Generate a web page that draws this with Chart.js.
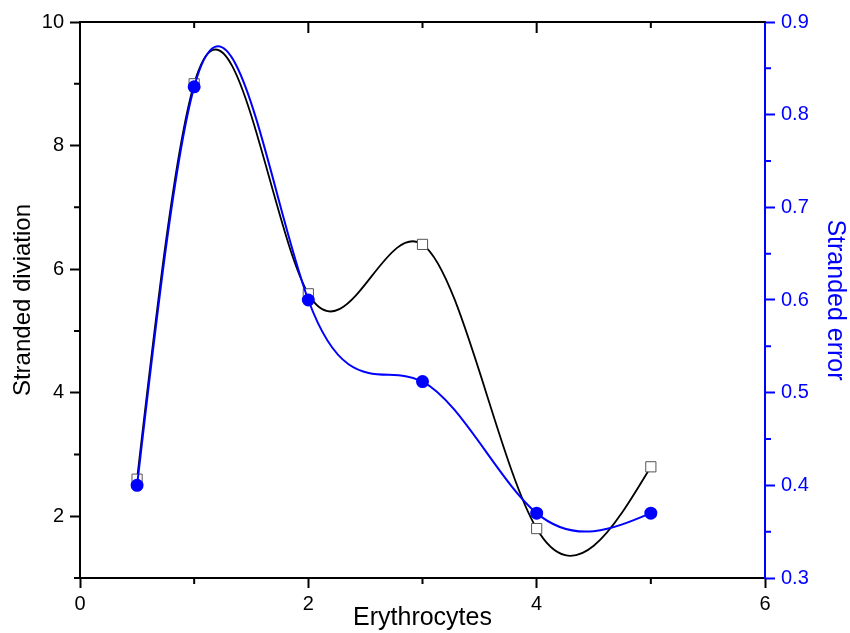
<!DOCTYPE html>
<html>
<head>
<meta charset="utf-8">
<script src="https://cdn.jsdelivr.net/npm/chart.js@4"></script>
<style>
  html, body { margin: 0; padding: 0; background: #fff; }
  #wrap { width: 850px; height: 633px; }
</style>
</head>
<body>
<div id="wrap"><canvas id="c" width="850" height="633"></canvas></div>
<script>
// 데이터
const erythrocytes = [0.5, 1, 2, 3, 4, 5];
const strandedDeviation = [2.6, 9.0, 5.6, 6.4, 1.8, 2.8];
const strandedError = [0.40, 0.83, 0.60, 0.512, 0.37, 0.37];

const xMinorTicks = [1, 3, 5];
const xMajorTicks = [0, 2, 4, 6];
const yMinorTicks = [1, 3, 5, 7, 9];
const y2MinorTicks = [0.35, 0.45, 0.55, 0.65, 0.75, 0.85];

const BLUE = '#0000ff';
const FONT = '"Liberation Sans", Arial, sans-serif';

// 자연 3차 스플라인 기울기 (픽셀 좌표 기준)
function splineSlopes(xs, ys) {
  const n = xs.length;
  const h = [], s = [];
  for (let i = 0; i < n - 1; i++) {
    h.push(xs[i + 1] - xs[i]);
    s.push((ys[i + 1] - ys[i]) / h[i]);
  }
  const M = new Array(n).fill(0);
  if (n > 2) {
    const a = [], b = [], c = [], d = [];
    for (let i = 1; i < n - 1; i++) {
      a.push(h[i - 1]); b.push(2 * (h[i - 1] + h[i])); c.push(h[i]);
      d.push(6 * (s[i] - s[i - 1]));
    }
    const m = b.length;
    for (let i = 1; i < m; i++) {
      const w = a[i] / b[i - 1];
      b[i] -= w * c[i - 1];
      d[i] -= w * d[i - 1];
    }
    const sol = new Array(m);
    sol[m - 1] = d[m - 1] / b[m - 1];
    for (let i = m - 2; i >= 0; i--) sol[i] = (d[i] - c[i] * sol[i + 1]) / b[i];
    for (let i = 0; i < m; i++) M[i + 1] = sol[i];
  }
  const slopes = [];
  for (let i = 0; i < n - 1; i++) slopes.push(s[i] - h[i] * (2 * M[i] + M[i + 1]) / 6);
  slopes.push(s[n - 2] + h[n - 2] * (M[n - 2] + 2 * M[n - 1]) / 6);
  return slopes;
}

// Origin 스타일 스플라인 곡선: 베지어 제어점 교체
const splinePlugin = {
  id: 'splineCurve',
  beforeDatasetDraw(chart, args) {
    const line = args.meta.dataset;
    const pts = args.meta.data;
    if (!line || pts.length < 3) return;
    line.updateControlPoints(chart.chartArea, 'x');
    const xs = pts.map(p => p.x), ys = pts.map(p => p.y);
    const m = splineSlopes(xs, ys);
    for (let i = 0; i < pts.length; i++) {
      if (i > 0) {
        const hp = (xs[i] - xs[i - 1]) / 3;
        pts[i].cp1x = xs[i] - hp;
        pts[i].cp1y = ys[i] - m[i] * hp;
      }
      if (i < pts.length - 1) {
        const hn = (xs[i + 1] - xs[i]) / 3;
        pts[i].cp2x = xs[i] + hn;
        pts[i].cp2y = ys[i] + m[i] * hn;
      }
    }
  }
};

// 작은 눈금 + 위쪽 테두리 그리기
const minorTicksPlugin = {
  id: 'minorTicks',
  afterDraw(chart) {
    const ctx = chart.ctx;
    const a = chart.chartArea;
    const x = chart.scales.x, y = chart.scales.y, y2 = chart.scales.y2;
    ctx.save();
    ctx.lineWidth = 2;
    ctx.strokeStyle = '#000';
    ctx.beginPath();
    ctx.moveTo(a.left - 1, a.top);
    ctx.lineTo(a.right, a.top);
    xMinorTicks.forEach(v => {
      const px = x.getPixelForValue(v);
      ctx.moveTo(px, a.bottom); ctx.lineTo(px, a.bottom + 6);
      ctx.moveTo(px, a.top); ctx.lineTo(px, a.top + 6);
    });
    xMajorTicks.forEach(v => {
      const px = x.getPixelForValue(v);
      if (v === 0 || v === 6) return;
      ctx.moveTo(px, a.top); ctx.lineTo(px, a.top + 11);
    });
    yMinorTicks.forEach(v => {
      const py = y.getPixelForValue(v);
      ctx.moveTo(a.left, py); ctx.lineTo(a.left - 6, py);
    });
    ctx.stroke();

    ctx.strokeStyle = BLUE;
    ctx.beginPath();
    y2MinorTicks.forEach(v => {
      const py = y2.getPixelForValue(v);
      ctx.moveTo(a.right, py); ctx.lineTo(a.right + 6, py);
    });
    ctx.stroke();
    ctx.restore();
  }
};

new Chart(document.getElementById('c'), {
  type: 'line',
  data: {
    datasets: [
      {
        label: 'Stranded error',
        data: erythrocytes.map((v, i) => ({ x: v, y: strandedError[i] })),
        yAxisID: 'y2',
        borderColor: BLUE, backgroundColor: BLUE,
        borderWidth: 2, pointStyle: 'circle', pointRadius: 5.5,
        tension: 0.4, order: 0
      },
      {
        label: 'Stranded diviation',
        data: erythrocytes.map((v, i) => ({ x: v, y: strandedDeviation[i] })),
        yAxisID: 'y',
        borderColor: '#000', backgroundColor: '#fff',
        pointBorderColor: '#555', pointBorderWidth: 1,
        borderWidth: 1.8, pointStyle: 'rect', pointRadius: 7.2,
        tension: 0.4, order: 1
      }
    ]
  },
  options: {
    responsive: false,
    animation: false,
    layout: { padding: { top: 22, left: 0, right: 0, bottom: 0 } },
    plugins: { legend: { display: false }, tooltip: { enabled: false } },
    scales: {
      x: {
        type: 'linear', min: 0, max: 6,
        ticks: { stepSize: 2, color: '#000', font: { family: FONT, size: 20 }, padding: 4 },
        grid: { drawOnChartArea: false, drawTicks: true, tickLength: 10, tickWidth: 2, tickColor: '#000' },
        border: { display: true, color: '#000', width: 2 },
        title: { display: true, text: 'Erythrocytes', color: '#000', font: { family: FONT, size: 25 }, padding: { top: 0, bottom: 0 } },
        afterFit(s) { s.height = 55; }
      },
      y: {
        type: 'linear', position: 'left', min: 1, max: 10,
        ticks: { stepSize: 2, includeBounds: false, color: '#000', font: { family: FONT, size: 20 }, padding: 6 },
        grid: { drawOnChartArea: false, drawTicks: true, tickLength: 10, tickWidth: 2, tickColor: '#000' },
        border: { display: true, color: '#000', width: 2 },
        title: { display: true, text: 'Stranded diviation', color: '#000', font: { family: FONT, size: 24 }, padding: { top: 9, bottom: 0 } },
        afterFit(s) { s.width = 80; }
      },
      y2: {
        type: 'linear', position: 'right', min: 0.3, max: 0.9,
        ticks: { stepSize: 0.1, color: BLUE, font: { family: FONT, size: 20 }, padding: 6,
          callback: v => v.toFixed(1) },
        grid: { drawOnChartArea: false, drawTicks: true, tickLength: 10, tickWidth: 2, tickColor: BLUE },
        border: { display: true, color: BLUE, width: 2 },
        title: { display: true, text: 'Stranded error', color: BLUE, font: { family: FONT, size: 25 }, padding: { top: 0, bottom: 0 } },
        afterFit(s) { s.width = 85; }
      }
    }
  },
  plugins: [splinePlugin, minorTicksPlugin]
});
</script>
</body>
</html>
